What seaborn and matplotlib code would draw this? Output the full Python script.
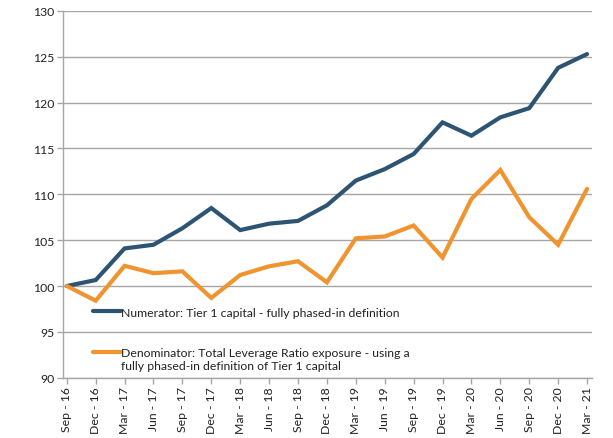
import matplotlib
matplotlib.use("Agg")
import matplotlib.pyplot as plt
import seaborn as sns
import pandas as pd
from matplotlib.lines import Line2D

quarters = ["Sep - 16", "Dec - 16", "Mar - 17", "Jun - 17", "Sep - 17", "Dec - 17",
            "Mar - 18", "Jun - 18", "Sep - 18", "Dec - 18", "Mar - 19", "Jun - 19",
            "Sep - 19", "Dec - 19", "Mar - 20", "Jun - 20", "Sep - 20", "Dec - 20",
            "Mar - 21"]
numerator = [100.0, 100.65, 104.1, 104.5, 106.3, 108.5, 106.1, 106.8, 107.1, 108.8,
             111.5, 112.75, 114.4, 117.85, 116.4, 118.4, 119.4, 123.8, 125.3]
denominator = [100.0, 98.4, 102.2, 101.4, 101.6, 98.7, 101.2, 102.15, 102.7, 100.4,
               105.2, 105.4, 106.6, 103.1, 109.5, 112.65, 107.5, 104.5, 110.6]
num_label = "Numerator: Tier 1 capital - fully phased-in definition"
den_label_1 = "Denominator: Total Leverage Ratio exposure - using a"
den_label_2 = "fully phased-in definition of Tier 1 capital"
y_ticks = [90, 95, 100, 105, 110, 115, 120, 125, 130]

BLUE = "#2D5573"
ORANGE = "#F0942F"
FS = 8.8

sns.set_theme(style="white")
plt.rcParams["font.family"] = ["Lato", "DejaVu Sans"]

df = pd.DataFrame({"pos": list(range(len(quarters))), "num": numerator, "den": denominator})

fig = plt.figure(figsize=(6.13, 4.39), dpi=100)
ax = fig.add_axes([0.1028, 0.1374, 0.8629, 0.8353])

sns.lineplot(data=df, x="pos", y="num", ax=ax, color=BLUE, linewidth=3.0,
             solid_capstyle="round", solid_joinstyle="miter", legend=False)
sns.lineplot(data=df, x="pos", y="den", ax=ax, color=ORANGE, linewidth=3.0,
             solid_capstyle="round", solid_joinstyle="miter", legend=False)

ax.set_ylim(90, 130)
ax.set_xlim(-0.13, 18.17)
ax.set_yticks(y_ticks)
ax.set_yticklabels([str(v) for v in y_ticks], fontsize=FS, color="#222222")
ax.set_xticks(range(len(quarters)))
ax.set_xticklabels(quarters, rotation=90, fontsize=FS, color="#222222")
ax.set_xlabel("")
ax.set_ylabel("")

ax.yaxis.grid(True, color="#A6A6A6", linewidth=1.0)
ax.set_axisbelow(True)
for s in ["top", "right"]:
    ax.spines[s].set_visible(False)
for s in ["left", "bottom"]:
    ax.spines[s].set_color("#A6A6A6")
    ax.spines[s].set_linewidth(1.0)
ax.tick_params(axis="both", which="both", direction="out", length=4, width=1,
               color="#A6A6A6", pad=2, left=True, bottom=True)

h_blue = Line2D([], [], color=BLUE, linewidth=3.0, solid_capstyle="round")
h_orange = Line2D([], [], color=ORANGE, linewidth=3.0, solid_capstyle="round")
h_none = Line2D([], [], color="none", linewidth=0)

leg1 = ax.legend([h_blue], [num_label], loc="center left", bbox_to_anchor=(0.0567, 0.179),
                 frameon=False, fontsize=FS, handlelength=2.3, handletextpad=0.0,
                 borderpad=0, borderaxespad=0)
for t in leg1.get_texts():
    t.set_color("#222222")
ax.add_artist(leg1)
leg2 = ax.legend([h_orange, h_none], [den_label_1, den_label_2], loc="center left",
                 bbox_to_anchor=(0.0567, 0.0508), frameon=False, fontsize=FS,
                 handlelength=2.3, handletextpad=0.0, borderpad=0, borderaxespad=0,
                 labelspacing=0.15)
for t in leg2.get_texts():
    t.set_color("#222222")

fig.savefig("out.png", dpi=100)
